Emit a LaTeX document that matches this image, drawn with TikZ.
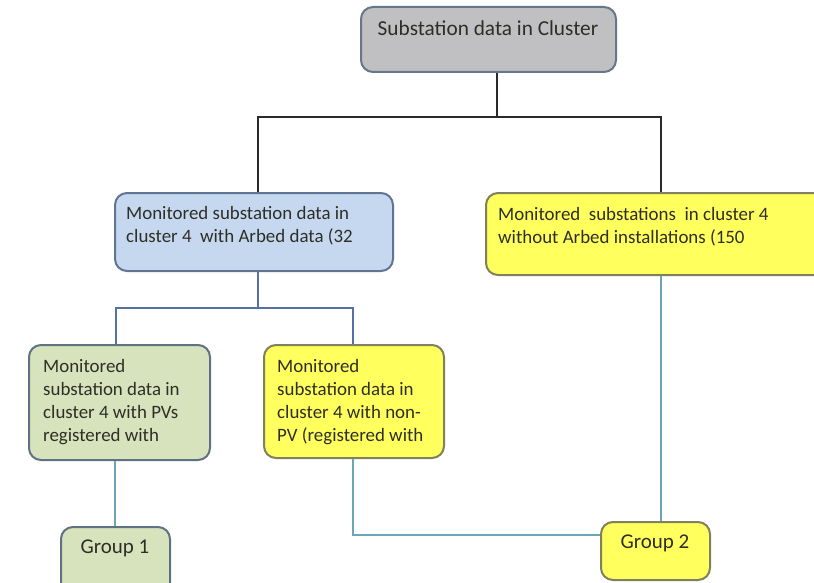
\documentclass[tikz,border=0pt]{standalone}
\usepackage{fontspec}
\setmainfont{Carlito}
\definecolor{grayfill}{HTML}{C0C0C2}
\definecolor{grayedge}{HTML}{66778C}
\definecolor{bluefill}{HTML}{C6D8F0}
\definecolor{blueedge}{HTML}{5E7594}
\definecolor{yelfill}{HTML}{FFFF5E}
\definecolor{yeledge}{HTML}{80805A}
\definecolor{grnfill}{HTML}{D6E3BD}
\definecolor{grnedge}{HTML}{5F7282}
\definecolor{txtcol}{HTML}{2E2E26}
\definecolor{topline}{HTML}{2A2A2A}
\definecolor{midline}{HTML}{5572A0}
\definecolor{lowline}{HTML}{6AA6B8}
\tikzset{
  boxshape/.style={draw, line width=2pt, rounded corners=12pt, inner sep=0pt},
  txt/.style={inner sep=0pt, text=txtcol, font=\fontsize{18.9}{23}\selectfont, align=left},
  ctxt/.style={inner sep=0pt, text=txtcol, font=\fontsize{21}{24}\selectfont, align=center},
  topconn/.style={draw=topline, line width=2.4pt},
  midconn/.style={draw=midline, line width=2.4pt},
  lowconn/.style={draw=lowline, line width=2.2pt},
}
\begin{document}
\begin{tikzpicture}[x=1pt,y=-1pt]
\useasboundingbox (0,0) rectangle (814,583);
\clip (0,0) rectangle (814,583);
\fill[white] (0,0) rectangle (814,583);

% boxes
\node[boxshape, fill=grayfill, draw=grayedge, minimum width=255pt, minimum height=65pt] (top) at (488.5,39.5) {};
\node[boxshape, fill=bluefill, draw=blueedge, minimum width=278pt, minimum height=78pt] (blue) at (254,232) {};
\node[boxshape, fill=yelfill, draw=yeledge, minimum width=350pt, minimum height=82pt] (yelR) at (661,234) {};
\node[boxshape, fill=grnfill, draw=grnedge, minimum width=181pt, minimum height=115pt] (grn) at (119.5,402.5) {};
\node[boxshape, fill=yelfill, draw=yeledge, minimum width=180pt, minimum height=113pt] (yelL) at (354,401.5) {};
\node[boxshape, fill=grnfill, draw=grnedge, minimum width=109pt, minimum height=75pt] (g1) at (115.5,564.5) {};
\node[boxshape, fill=yelfill, draw=yeledge, minimum width=109pt, minimum height=58pt] (g2) at (655.5,551) {};

% texts
\node[ctxt, anchor=north, font=\fontsize{21.3}{24}\selectfont] (toptxt) at (488,19) {\strut Substation data in Cluster};
\node[txt, anchor=north west] (bluetxt) at (126,203) {\strut Monitored substation data in\\\strut cluster 4\ \ with Arbed data (32};
\node[txt, anchor=north west] (yelRtxt) at (498,204) {\strut Monitored\ \ substations\ \ in cluster 4\\\strut without Arbed installations (150};
\node[txt, anchor=north west] (grntxt) at (43,356) {\strut Monitored\\\strut substation data in\\\strut cluster 4 with PVs\\\strut registered with};
\node[txt, anchor=north west] (yelLtxt) at (277,356) {\strut Monitored\\\strut substation data in\\\strut cluster 4 with non-\\\strut PV (registered with};
\node[ctxt, anchor=north] (g1txt) at (115,536) {\strut Group 1};
\node[ctxt, anchor=north] (g2txt) at (655,531) {\strut Group 2};

% connector points
\coordinate (j1) at (497,117);
\coordinate (j2) at (258,308);
\coordinate (xR) at (661,0);
\coordinate (xG) at (116,0);
\coordinate (xY) at (353,0);
\coordinate (xG1) at (115,0);
\coordinate (yB) at (0,535);

% connectors
\draw[topconn] (top.south -| j1) -- (j1);
\draw[topconn] (j1) -| (blue.north -| j2);
\draw[topconn] (j1) -| (yelR.north -| xR);
\draw[midconn] (blue.south -| j2) -- (j2);
\draw[midconn] (j2) -| (grn.north -| xG);
\draw[midconn] (j2) -| (yelL.north -| xY);
\draw[lowconn] (grn.south -| xG1) -- (g1.north -| xG1);
\draw[lowconn] (yelL.south -| xY) |- (g2.west |- yB);
\draw[lowconn] (yelR.south -| xR) -- (g2.north -| xR);
\end{tikzpicture}
\end{document}
